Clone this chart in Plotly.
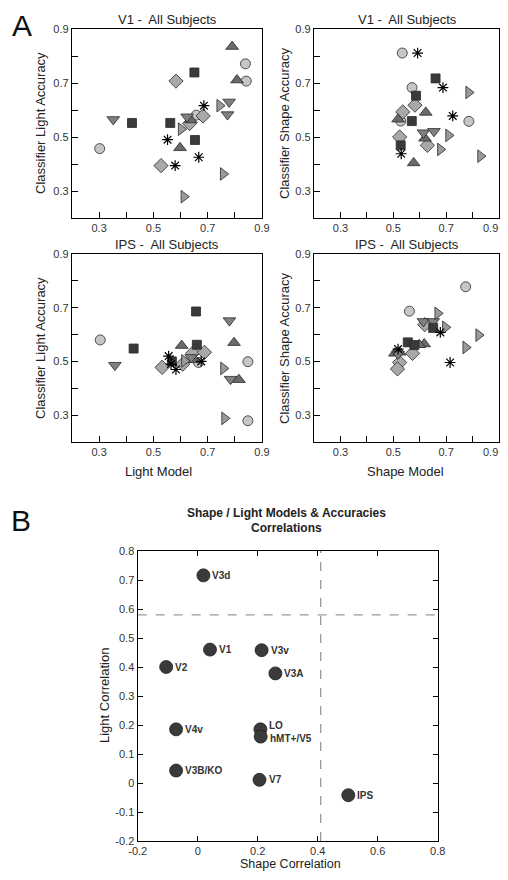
import plotly.graph_objects as go

# The page places the plot 8px inside the window (body margin on every side),
# so the figure is sized to fit the 508x880 window without any overflow.
WIN_W, WIN_H = 508, 880
OFF = 8
W, H = WIN_W - 2 * OFF, WIN_H - 2 * OFF
FONT = "Liberation Sans, Arial, sans-serif"

# ---------------- DATA ----------------
subjects = ["S1", "S2", "S3", "S4", "S5", "S6", "S7"]

# Panel A1: V1 - Light model vs classifier light accuracy
v1_light_subj = ["S1"] * 4 + ["S2"] * 4 + ["S3"] * 4 + ["S4"] * 4 + ["S5"] * 4 + ["S6"] * 4 + ["S7"] * 4
v1_light_model = [0.302, 0.839, 0.842, 0.658,
                  0.583, 0.528, 0.633, 0.683,
                  0.790, 0.598, 0.808, 0.638,
                  0.352, 0.779, 0.773, 0.624,
                  0.744, 0.602, 0.757, 0.612,
                  0.421, 0.562, 0.651, 0.653,
                  0.552, 0.580, 0.667, 0.686]
v1_light_acc = [0.457, 0.771, 0.707, 0.581,
                0.707, 0.394, 0.550, 0.578,
                0.835, 0.460, 0.711, 0.563,
                0.565, 0.630, 0.583, 0.575,
                0.616, 0.529, 0.363, 0.279,
                0.552, 0.552, 0.739, 0.489,
                0.490, 0.394, 0.425, 0.616]

# Panel A2: V1 - Shape model vs classifier shape accuracy
v1_shape_subj = ["S1"] * 4 + ["S2"] * 4 + ["S3"] * 4 + ["S4"] * 2 + ["S5"] * 4 + ["S6"] * 4 + ["S7"] * 4
v1_shape_model = [0.534, 0.571, 0.786, 0.528,
                  0.582, 0.536, 0.524, 0.629,
                  0.623, 0.577, 0.518, 0.620,
                  0.614, 0.654,
                  0.785, 0.709, 0.678, 0.830,
                  0.660, 0.586, 0.570, 0.528,
                  0.592, 0.688, 0.725, 0.530]
v1_shape_acc = [0.811, 0.683, 0.558, 0.559,
                0.618, 0.593, 0.500, 0.469,
                0.591, 0.404, 0.566, 0.495,
                0.516, 0.521,
                0.665, 0.506, 0.454, 0.429,
                0.717, 0.653, 0.559, 0.469,
                0.811, 0.683, 0.578, 0.438]

# Panel A3: IPS - Light model vs classifier light accuracy
ips_light_subj = ["S1"] * 4 + ["S2"] * 4 + ["S3"] * 4 + ["S4"] * 4 + ["S5"] * 3 + ["S6"] * 4 + ["S7"] * 4
ips_light_model = [0.304, 0.848, 0.848, 0.666,
                   0.532, 0.645, 0.688, 0.608,
                   0.604, 0.647, 0.797, 0.815,
                   0.358, 0.780, 0.784, 0.639,
                   0.758, 0.762, 0.614,
                   0.427, 0.657, 0.660, 0.568,
                   0.556, 0.583, 0.676, 0.565]
ips_light_acc = [0.580, 0.499, 0.279, 0.496,
                 0.478, 0.531, 0.534, 0.490,
                 0.559, 0.506, 0.570, 0.432,
                 0.486, 0.652, 0.434, 0.515,
                 0.474, 0.288, 0.502,
                 0.548, 0.686, 0.562, 0.500,
                 0.520, 0.470, 0.500, 0.490]

# Panel A4: IPS - Shape model vs classifier shape accuracy
ips_shape_subj = ["S1"] * 2 + ["S2"] * 4 + ["S3"] * 4 + ["S4"] * 3 + ["S5"] * 4 + ["S6"] * 3 + ["S7"] * 3
ips_shape_model = [0.774, 0.561,
                   0.619, 0.573, 0.524, 0.516,
                   0.617, 0.598, 0.506, 0.524,
                   0.614, 0.651, 0.518,
                   0.668, 0.697, 0.774, 0.823,
                   0.651, 0.555, 0.580,
                   0.678, 0.715, 0.518]
ips_shape_acc = [0.778, 0.687,
                 0.637, 0.530, 0.496, 0.472,
                 0.565, 0.562, 0.530, 0.534,
                 0.649, 0.649, 0.528,
                 0.679, 0.627, 0.552, 0.598,
                 0.625, 0.571, 0.561,
                 0.608, 0.496, 0.546]

# Panel B: correlations per region
regions = ["V1", "V2", "V3d", "V3v", "V3A", "V4v", "LO", "hMT+/V5", "V3B/KO", "V7", "IPS"]
shape_corr = [0.041, -0.105, 0.019, 0.213, 0.259, -0.072, 0.209, 0.210, -0.072, 0.206, 0.502]
light_corr = [0.460, 0.400, 0.716, 0.458, 0.378, 0.185, 0.185, 0.160, 0.043, 0.011, -0.042]
shape_threshold = 0.41
light_threshold = 0.58

a_ticks = [0.3, 0.4, 0.5, 0.6, 0.7, 0.8, 0.9]
a_ticktext = ["0.3", "", "0.5", "", "0.7", "", "0.9"]
a_ticktext_edge = ["0.3", "", "0.5", "", "0.7", "", ""]   # right panels: last label drawn separately
b_xticks = [-0.2, 0, 0.2, 0.4, 0.6, 0.8]
b_xticktext = ["-0.2", "0", "0.2", "0.4", "0.6", "0.8"]
b_yticks = [-0.2, -0.1, 0, 0.1, 0.2, 0.3, 0.4, 0.5, 0.6, 0.7, 0.8]
b_yticktext = ["-0.2", "-0.1", "0", "0.1", "0.2", "0.3", "0.4", "0.5", "0.6", "0.7", "0.8"]

# ---------------- STYLES ----------------
style = {
    "S1": dict(symbol="circle", color="#c6c6c6", size=10),
    "S2": dict(symbol="diamond", color="#a8a8a8", size=11),
    "S3": dict(symbol="triangle-up", color="#6a6a6a", size=11),
    "S4": dict(symbol="triangle-down", color="#808080", size=11),
    "S5": dict(symbol="triangle-right", color="#9a9a9a", size=11),
    "S6": dict(symbol="square", color="#3a3a3a", size=9),
    "S7": dict(symbol="asterisk-open", color="#000000", size=9),
}

def px_x(p):
    return (p - OFF) / W

def px_y(p):
    return 1 - (p - OFF) / H

fig = go.Figure()

panels = [
    ("x", "y", v1_light_model, v1_light_acc, v1_light_subj),
    ("x2", "y2", v1_shape_model, v1_shape_acc, v1_shape_subj),
    ("x3", "y3", ips_light_model, ips_light_acc, ips_light_subj),
    ("x4", "y4", ips_shape_model, ips_shape_acc, ips_shape_subj),
]
for xa, ya, xs, ys, subj in panels:
    for s in subjects:
        px = [x for x, k in zip(xs, subj) if k == s]
        py = [y for y, k in zip(ys, subj) if k == s]
        st = style[s]
        if st["symbol"].startswith("asterisk"):
            mk = dict(symbol=st["symbol"], size=st["size"], color="#000",
                      line=dict(color="#000", width=1.2))
        else:
            mk = dict(symbol=st["symbol"], size=st["size"], color=st["color"],
                      line=dict(color="#2a2a2a", width=0.8))
        fig.add_trace(go.Scatter(x=px, y=py, mode="markers", marker=mk,
                                 xaxis=xa, yaxis=ya, showlegend=False, hoverinfo="skip"))

fig.add_trace(go.Scatter(x=shape_corr, y=light_corr, mode="markers",
                         marker=dict(symbol="circle", size=13, color="#3a3a3a",
                                     line=dict(color="#222", width=0.8)),
                         xaxis="x5", yaxis="y5", showlegend=False, hoverinfo="skip"))

# ---------------- AXES ----------------
axline = dict(showline=True, linecolor="#000", linewidth=1.4, showgrid=False, zeroline=False,
              ticks="inside", ticklen=6, tickcolor="#000", tickwidth=1, automargin=False,
              tickfont=dict(family=FONT, size=11, color="#333"))

xl = [px_x(72), px_x(262)]
xr = [px_x(314), px_x(499)]
yt = [px_y(218), px_y(29)]
yb = [px_y(442), px_y(254)]

def a_ax(domain, anchor, text=a_ticktext):
    return dict(domain=domain, anchor=anchor, range=[0.2, 0.9], tickvals=a_ticks,
                ticktext=text, mirror=True, **axline)

fig.update_layout(
    xaxis=a_ax(xl, "y"), yaxis=a_ax(yt, "x"),
    xaxis2=a_ax(xr, "y2", a_ticktext_edge), yaxis2=a_ax(yt, "x2"),
    xaxis3=a_ax(xl, "y3"), yaxis3=a_ax(yb, "x3"),
    xaxis4=a_ax(xr, "y4", a_ticktext_edge), yaxis4=a_ax(yb, "x4"),
)
bline = dict(axline)
bline["ticklen"] = 5
fig.update_layout(
    xaxis5=dict(domain=[px_x(137.7), px_x(437.7)], anchor="y5", range=[-0.2, 0.8],
                tickvals=b_xticks, ticktext=b_xticktext, mirror="ticks", **bline),
    yaxis5=dict(domain=[px_y(841), px_y(551)], anchor="x5", range=[-0.2, 0.8],
                tickvals=b_yticks, ticktext=b_yticktext, mirror="ticks", **bline),
)

# last x tick label of the right panels, kept inside the page
for xa, ybot in (("x2", 218), ("x4", 442)):
    fig.add_annotation(x=a_ticks[-1], xref=xa, y=px_y(ybot + 10), yref="paper",
                       text=a_ticktext[-1], showarrow=False, xanchor="right", xshift=1,
                       yanchor="middle", font=dict(family=FONT, size=11, color="#333"))

# dashed threshold lines
fig.add_shape(type="line", xref="x5", yref="y5", x0=shape_threshold, x1=shape_threshold,
              y0=-0.2, y1=0.8, line=dict(color="#999", width=1.3, dash="dash"))
fig.add_shape(type="line", xref="x5", yref="y5", x0=-0.2, x1=0.8,
              y0=light_threshold, y1=light_threshold, line=dict(color="#999", width=1.3, dash="dash"))

# region labels
for r, sx, ly in zip(regions, shape_corr, light_corr):
    ys = 0
    if r == "LO":
        ys = 4
    elif r == "hMT+/V5":
        ys = -2
    fig.add_annotation(x=sx, y=ly, xref="x5", yref="y5", text="<b>%s</b>" % r,
                       showarrow=False, xanchor="left", yanchor="middle", xshift=7, yshift=ys,
                       font=dict(family=FONT, size=10, color="#333"))

# ---------------- TEXT ----------------
def ann(text, x, y, size, angle=0, bold=False, color="#222"):
    fig.add_annotation(x=px_x(x), y=px_y(y), xref="paper", yref="paper",
                       text=("<b>%s</b>" % text) if bold else text, showarrow=False,
                       xanchor="center", yanchor="middle", textangle=angle,
                       font=dict(family=FONT, size=size, color=color))

ann("V1 -  All Subjects", 167, 19, 13)
ann("V1 -  All Subjects", 407, 19, 13)
ann("IPS -  All Subjects", 167, 244, 13)
ann("IPS -  All Subjects", 407, 244, 13)
ann("Classifier Light Accuracy", 40, 123, 13, angle=-90)
ann("Classifier Shape Accuracy", 284, 123, 13, angle=-90)
ann("Classifier Light Accuracy", 40, 348, 13, angle=-90)
ann("Classifier Shape Accuracy", 284, 348, 13, angle=-90)
ann("Light Model", 158, 471, 13)
ann("Shape Model", 405, 471, 13)
ann("A", 22, 25, 30, color="#111")
ann("B", 21, 520, 30, color="#111")
ann("Shape / Light Models & Accuracies", 286, 513, 12, bold=True)
ann("Correlations", 286, 528, 12, bold=True)
ann("Light Correlation", 104, 696, 13, angle=-90)
ann("Shape Correlation", 290, 864, 12.5)

fig.update_layout(width=W, height=H, margin=dict(l=0, r=0, t=0, b=0, autoexpand=False),
                  paper_bgcolor="white", plot_bgcolor="white",
                  font=dict(family=FONT, color="#333"), showlegend=False)

fig.write_html("out.html")
